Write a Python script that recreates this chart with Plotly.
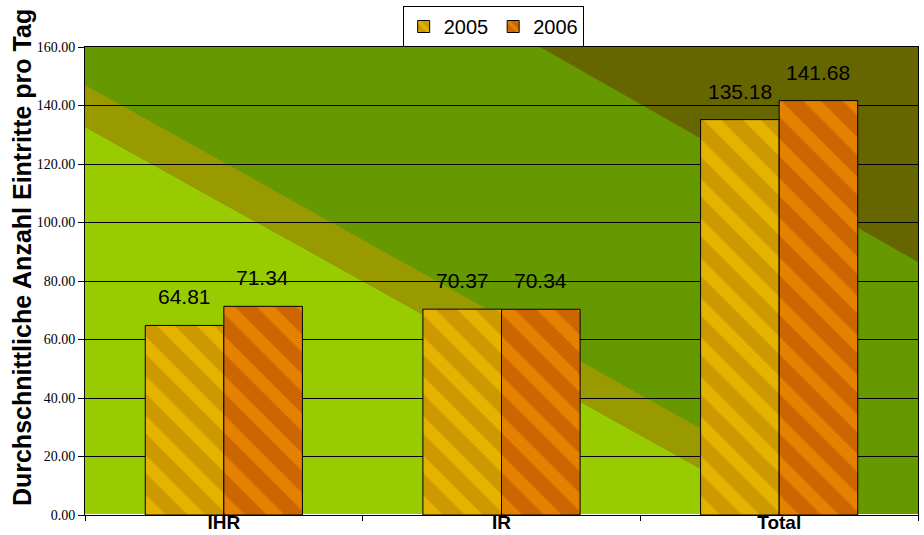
import plotly.graph_objects as go

categories = ["IHR", "IR", "Total"]
years = ["2005", "2006"]
values_2005 = [64.81, 70.37, 135.18]
values_2006 = [71.34, 70.34, 141.68]
y_ticks = [0, 20, 40, 60, 80, 100, 120, 140, 160]
y_title = "Durchschnittliche Anzahl Eintritte pro Tag"

series = [
    (years[0], values_2005, "#CC9900", "#FFCC00", -39),
    (years[1], values_2006, "#CC6600", "#FF9900", 39),
]

fig = go.Figure()
for name, vals, base, fg, shift in series:
    fig.add_trace(go.Bar(
        name=name, x=categories, y=vals,
        marker=dict(color=base, line=dict(color="black", width=1),
                    pattern=dict(shape="\\", fgcolor=fg, size=28, solidity=0.45,
                                 fillmode="overlay")),
    ))
    for c, v in zip(categories, vals):
        fig.add_annotation(x=c, y=v, text=f"{v:.2f}", showarrow=False,
                           xshift=shift, yshift=15, yanchor="bottom",
                           font=dict(family="Liberation Sans, Arial", size=21, color="black"))

fig.add_annotation(xref="paper", yref="paper", x=-0.0756, y=0.549,
                   xanchor="center", yanchor="middle", textangle=-90,
                   text=f"<b>{y_title}</b>", showarrow=False,
                   font=dict(family="Liberation Sans, Arial", size=25, color="black"))

def P(pts):
    return "M " + " L ".join(f"{x},{y}" for x, y in pts) + " Z"

bg_shapes = [
    ("#99CC00", [(0, 0.8291), (0.8391, 0), (0, 0)]),
    ("#999900", [(0, 0.9188), (0.9256, 0), (0.8391, 0), (0, 0.8291)]),
    ("#666600", [(0.5462, 1), (1, 0.5406), (1, 1)]),
]
shapes = [dict(type="path", xref="paper", yref="paper", path=P(pts),
               fillcolor=col, line=dict(width=0), layer="below")
          for col, pts in bg_shapes]

fig.update_layout(
    width=924, height=535,
    margin=dict(l=85, r=6, t=47, b=20),
    paper_bgcolor="white", plot_bgcolor="#669900",
    barmode="group", bargap=0.434, bargroupgap=0,
    shapes=shapes,
    font=dict(family="Liberation Sans, Arial", color="black"),
    legend=dict(orientation="h", x=0.49, xanchor="center", y=1.0, yanchor="bottom",
                bordercolor="black", borderwidth=1, bgcolor="white",
                font=dict(size=20), itemwidth=30),
    xaxis=dict(showline=True, linecolor="black", linewidth=1, mirror=True,
               ticks="outside", tickson="boundaries", ticklen=5, tickcolor="black",
               tickfont=dict(size=19), automargin=False, ticklabelstandoff=-10,
               showgrid=False),
    yaxis=dict(range=[0, 160], tickvals=y_ticks, tickformat=".2f",
               showline=True, linecolor="black", linewidth=1, mirror=True,
               ticks="outside", ticklen=6, tickcolor="black",
               gridcolor="black", gridwidth=1, automargin=False,
               tickfont=dict(size=14, family="Liberation Sans Narrow, Arial Narrow")),
)
fig.update_xaxes(ticktext=[f"<b>{c}</b>" for c in categories], tickvals=categories)

fig.write_html("out.html")
